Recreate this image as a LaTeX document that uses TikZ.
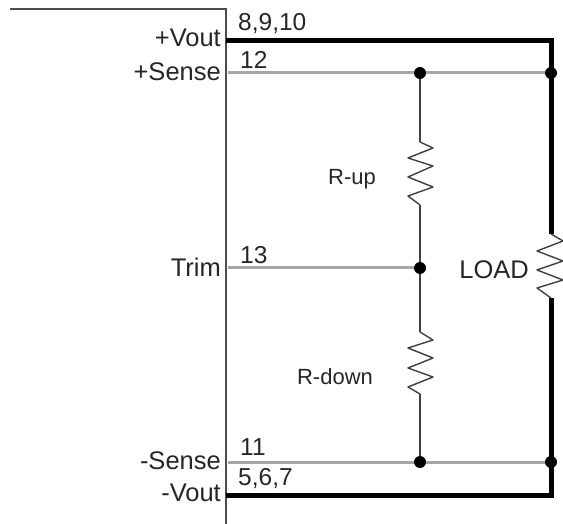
\documentclass[tikz,border=0pt]{standalone}
\usepackage{fontspec}
\setmainfont{Liberation Sans}
\begin{document}
\begin{tikzpicture}[x=1pt,y=-1pt]
		\tikzstyle{broche} = [anchor=east,inner sep=0pt,font=\fontsize{25.5}{26}\selectfont,text=black!85]
		\tikzstyle{numero} = [anchor=west,inner sep=0pt,font=\fontsize{24.5}{26}\selectfont,text=black!85]
		\tikzstyle{valeur} = [inner sep=0pt,font=\fontsize{22}{24}\selectfont,text=black!85]
		\tikzstyle{point} = [circle,fill=black,inner sep=0pt,minimum size=12pt]
		\tikzstyle{puissance} = [line width=5pt,line join=miter]
		\tikzstyle{mesure} = [line width=3pt,black!35]
		\tikzstyle{fil} = [line width=1.6pt,black!75]
		\tikzstyle{boitier} = [line width=1.5pt,black!70]
		\tikzstyle{resistance} = [line width=1.4pt,black!75,line join=round]
		
		\useasboundingbox (0,0) rectangle (563,524);
		
		\coordinate (HautG) at (10,9);
		\coordinate (HautD) at (226,9);
		\coordinate (BasD) at (226,524);
		
		\coordinate (Vplus) at (226,41);
		\coordinate (Splus) at (228,73);
		\coordinate (Trim) at (228,268);
		\coordinate (Smoins) at (228,462);
		\coordinate (Vmoins) at (226,495);
		\coordinate (CoinH) at (551,41);
		\coordinate (CoinB) at (551,495);
		
		\node[point](N1) at (420,73) {};
		\node[point](N2) at (420,268) {};
		\node[point](N3) at (420,462) {};
		\node[point](N4) at (551,73) {};
		\node[point](N5) at (551,462) {};
		
		\coordinate (RupH) at (420,142);
		\coordinate (RupB) at (420,205);
		\coordinate (RdownH) at (420,332);
		\coordinate (RdownB) at (420,394);
		\coordinate (LoadH) at (551,234);
		\coordinate (LoadB) at (551,298);
		
		\draw[boitier] (HautG) -- (HautD) -- (BasD);
		
		\draw[mesure] (Splus) -- (N1);
		\draw[mesure] (N1) -- (N4);
		\draw[mesure] (Trim) -- (N2);
		\draw[mesure] (Smoins) -- (N3);
		\draw[mesure] (N3) -- (N5);
		
		\draw[fil] (N1) -- (RupH);
		\draw[fil] (RupB) -- (N2);
		\draw[fil] (N2) -- (RdownH);
		\draw[fil] (RdownB) -- (N3);
		
		\draw[puissance] (Vplus) -- (CoinH) -- (LoadH);
		\draw[puissance] (Vmoins) -- (CoinB) -- (LoadB);
		
		\draw[resistance] (RupH) -- ++(13,6) -- ++(-25,10) -- ++(25,8) -- ++(-25,11) -- ++(25,10) -- ++(-25,9) -- (RupB);
		\draw[resistance] (RdownH) -- ++(13,8) -- ++(-25,8) -- ++(25,10) -- ++(-25,10) -- ++(25,9) -- ++(-25,10) -- (RdownB);
		\draw[resistance] (LoadH) -- ++(12,7) -- ++(-26,10) -- ++(26,10) -- ++(-26,9) -- ++(26,10) -- ++(-26,8) -- (LoadB);
		
		\node[broche](Lvplus) at (221,38) {+Vout};
		\node[broche](Lsplus) at (221,72) {+Sense};
		\node[broche](Ltrim) at (221,267) {Trim};
		\node[broche](Lsmoins) at (221,461) {-Sense};
		\node[broche](Lvmoins) at (221,493) {-Vout};
		
		\node[numero](P8) at (238,24) {8,9,10};
		\node[numero](P12) at (240,60) {12};
		\node[numero](P13) at (240,255) {13};
		\node[numero](P11) at (240,447) {11};
		\node[numero](P5) at (238,479) {5,6,7};
		
		\node[valeur](Rup) at (352,179) {R-up};
		\node[valeur](Rdown) at (335,377) {R-down};
		\node[broche](Load) at (529,270) {LOAD};
		\end{tikzpicture}
\end{document}
